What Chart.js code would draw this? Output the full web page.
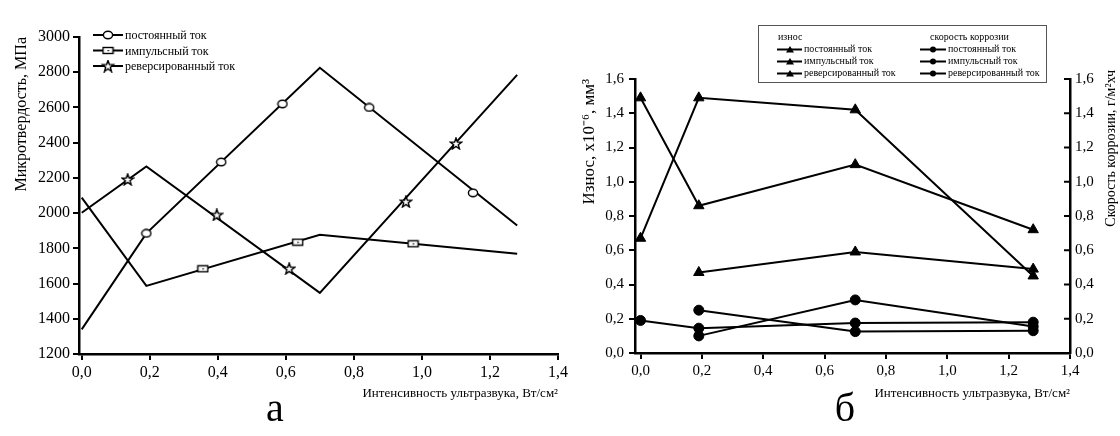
<!DOCTYPE html>
<html>
<head>
<meta charset="utf-8">
<script src="https://cdn.jsdelivr.net/npm/chart.js@4.4.0/dist/chart.umd.min.js"></script>
<style>
  body { margin: 0; background: #fff; width: 1120px; height: 436px; overflow: hidden; position: relative; }
  canvas { position: absolute; top: 0; }
  #chartA { left: 0; }
  #chartB { left: 555px; }
  .letter { position: absolute; top: 388px; font: 40px/1 "Liberation Serif", serif; color: #000; transform: translateX(-50%); }
</style>
</head>
<body>
<canvas id="chartA" width="580" height="420"></canvas>
<canvas id="chartB" width="565" height="420"></canvas>
<div class="letter" style="left:275px">а</div>
<div class="letter" style="left:845px">б</div>
<script>
// --- а: микротвердость ---
const xTicksA = [0, 0.2, 0.4, 0.6, 0.8, 1.0, 1.2, 1.4];
const yTicksA = [1200, 1400, 1600, 1800, 2000, 2200, 2400, 2600, 2800, 3000];
const seriesNames = ['постоянный ток', 'импульсный ток', 'реверсированный ток'];
const intensity = [0, 0.19, 0.7, 1.28];
const hvDC = [1340, 1885, 2825, 1930];
const hvPulse = [2088, 1587, 1877, 1769];
const hvRev = [2002, 2265, 1547, 2785];
// symbols along the lines
const symDCx = [0.19, 0.41, 0.59, 0.845, 1.15];
const symDCy = [1885, 2290, 2620, 2600, 2115];
const symPulseX = [0.356, 0.635, 0.974];
const symPulseY = [1684, 1835, 1826];
const symRevX = [0.135, 0.397, 0.61, 0.953, 1.10];
const symRevY = [2191, 1990, 1685, 2065, 2395];

// --- б: износ и скорость коррозии ---
const xTicksB = [0, 0.2, 0.4, 0.6, 0.8, 1.0, 1.2, 1.4];
const yTicksB = [0, 0.2, 0.4, 0.6, 0.8, 1.0, 1.2, 1.4, 1.6];
const wearDC = [1.49, 0.86, 1.10, 0.72];
const wearPulse = [0.67, 1.49, 1.42, 0.45];
const wearRev = [null, 0.47, 0.59, 0.49];
const corrDC = [0.19, 0.145, 0.175, 0.18];
const corrPulse = [null, 0.25, 0.125, 0.13];
const corrRev = [null, 0.10, 0.31, 0.155];

const FONT = '"Liberation Serif", "Times New Roman", serif';
Chart.defaults.font.family = FONT;
Chart.defaults.color = '#000';

const pts = (xs, ys) => xs.map((x, i) => ({ x: x, y: ys[i] }));
const comma = v => Number(v).toFixed(1).replace('.', ',');

// hollow symbols for chart а
function makeSymbol(w, h, draw) {
    const c = document.createElement('canvas');
    c.width = w; c.height = h;
    const g = c.getContext('2d');
    g.lineWidth = 1.4; g.strokeStyle = '#000'; g.fillStyle = '#fff';
    draw(g);
    return c;
}
const symCircle = makeSymbol(12, 10, g => {
    g.beginPath(); g.ellipse(6, 5, 4.6, 3.7, 0, 0, Math.PI * 2); g.fill(); g.stroke();
});
const symSquare = makeSymbol(13, 9, g => {
    g.fillRect(1.5, 1.5, 10, 6); g.strokeRect(1.5, 1.5, 10, 6);
    g.fillStyle = '#000'; g.fillRect(6, 4, 1.5, 1.2);
});
const symStar = makeSymbol(14, 13, g => {
    g.beginPath();
    for (let i = 0; i < 10; i++) {
        const r = i % 2 ? 2.4 : 6;
        const a = -Math.PI / 2 + i * Math.PI / 5;
        const px = 7 + r * Math.cos(a), py = 7 + r * Math.sin(a);
        i ? g.lineTo(px, py) : g.moveTo(px, py);
    }
    g.closePath(); g.fill(); g.stroke();
});
const symbolsA = [symCircle, symSquare, symStar];

function lineSet(data, yAxisID) {
    return { data: data, borderColor: '#000', borderWidth: 2, pointRadius: 0, fill: false, tension: 0, yAxisID: yAxisID };
}
function symbolSet(data, img) {
    return { data: data, showLine: false, pointStyle: img, pointRadius: 6, borderColor: '#000', backgroundColor: '#fff' };
}
function markSet(data, style, r, yAxisID) {
    return { data: data, borderColor: '#000', borderWidth: 2, pointStyle: style, pointRadius: r,
        pointBackgroundColor: '#000', pointBorderColor: '#000', pointBorderWidth: 1, tension: 0, yAxisID: yAxisID };
}

const tickGrid = { drawOnChartArea: false, drawTicks: true, tickLength: 6, color: '#000', lineWidth: 2 };
const axisBorder = { display: true, color: '#000', width: 2.5 };

const legendA = {
    id: 'legendA',
    afterDraw(chart) {
        const ctx = chart.ctx;
        ctx.save();
        ctx.font = '12px ' + FONT;
        ctx.fillStyle = '#000';
        ctx.strokeStyle = '#000';
        ctx.textBaseline = 'middle';
        seriesNames.forEach((name, i) => {
            const y = 35 + i * 15.5;
            ctx.lineWidth = 2;
            ctx.beginPath(); ctx.moveTo(93, y); ctx.lineTo(123, y); ctx.stroke();
            const s = symbolsA[i];
            ctx.drawImage(s, 108 - s.width / 2, y - s.height / 2);
            ctx.fillText(name, 125, y + 1);
        });
        ctx.restore();
    }
};

new Chart(document.getElementById('chartA'), {
    type: 'line',
    data: {
        datasets: [
            symbolSet(pts(symDCx, symDCy), symCircle),
            symbolSet(pts(symPulseX, symPulseY), symSquare),
            symbolSet(pts(symRevX, symRevY), symStar),
            lineSet(pts(intensity, hvDC)),
            lineSet(pts(intensity, hvPulse)),
            lineSet(pts(intensity, hvRev))
        ]
    },
    options: {
        responsive: false,
        animation: false,
        devicePixelRatio: 1,
        layout: { padding: { top: 37, right: 22, bottom: 13, left: 0 } },
        plugins: { legend: { display: false }, tooltip: { enabled: false } },
        scales: {
            x: {
                type: 'linear', min: -0.008, max: 1.4,
                afterBuildTicks: s => { s.ticks = xTicksA.map(v => ({ value: v })); },
                afterFit: s => { s.height = 53; },
                ticks: { callback: comma, font: { size: 16 }, color: '#000', padding: 3, maxRotation: 0, autoSkip: false },
                grid: tickGrid, border: axisBorder,
                title: { display: true, text: 'Интенсивность ультразвука, Вт/см²', align: 'end', color: '#000',
                    font: { size: 13 }, padding: { top: 4, bottom: 6 } }
            },
            y: {
                min: 1200, max: 3000,
                afterBuildTicks: s => { s.ticks = yTicksA.map(v => ({ value: v })); },
                afterFit: s => { s.width = 79; },
                ticks: { callback: v => String(v), font: { size: 16 }, color: '#000', padding: 3 },
                grid: tickGrid, border: axisBorder,
                title: { display: true, text: 'Микротвердость, МПа', align: 'end', color: '#000',
                    font: { size: 16 }, padding: { top: 12, bottom: 0 } }
            }
        }
    },
    plugins: [legendA]
});

const extrasB = {
    id: 'extrasB',
    afterDraw(chart) {
        const { ctx, chartArea, scales } = chart;
        ctx.save();
        ctx.strokeStyle = '#000';
        ctx.fillStyle = '#000';
        // inward ticks on the right axis
        ctx.lineWidth = 2;
        yTicksB.forEach(v => {
            const y = scales.y2.getPixelForValue(v);
            ctx.beginPath(); ctx.moveTo(chartArea.right - 6, y); ctx.lineTo(chartArea.right, y); ctx.stroke();
        });
        // right axis title, reads bottom to top
        ctx.save();
        ctx.font = '14px ' + FONT;
        ctx.translate(chartArea.right + 41, 70);
        ctx.rotate(-Math.PI / 2);
        ctx.textAlign = 'right';
        ctx.textBaseline = 'middle';
        ctx.fillText('Скорость коррозии, г/м²хч', 0, 0);
        ctx.restore();
        // legend box
        const bx = 203, by = 25, bw = 288, bh = 57;
        ctx.lineWidth = 1;
        ctx.strokeStyle = '#555';
        ctx.strokeRect(bx + 0.5, by + 0.5, bw, bh);
        ctx.strokeStyle = '#000';
        ctx.font = '10px ' + FONT;
        ctx.textBaseline = 'middle';
        ctx.fillText('износ', 223, 37);
        ctx.fillText('скорость коррозии', 375, 37);
        seriesNames.forEach((name, i) => {
            const y = 49.5 + i * 12;
            ctx.lineWidth = 2;
            ctx.beginPath(); ctx.moveTo(222, y); ctx.lineTo(247, y); ctx.stroke();
            ctx.beginPath(); ctx.moveTo(235, y - 3.5); ctx.lineTo(239, y + 3); ctx.lineTo(231, y + 3); ctx.closePath(); ctx.fill();
            ctx.fillText(name, 249, y);
            ctx.beginPath(); ctx.moveTo(365, y); ctx.lineTo(391, y); ctx.stroke();
            ctx.beginPath(); ctx.arc(378, y, 3, 0, Math.PI * 2); ctx.fill();
            ctx.fillText(name, 393, y);
        });
        ctx.restore();
    }
};

new Chart(document.getElementById('chartB'), {
    type: 'line',
    data: {
        datasets: [
            markSet(pts(intensity, wearDC), 'triangle', 6, 'y'),
            markSet(pts(intensity, wearPulse), 'triangle', 6, 'y'),
            markSet(pts(intensity, wearRev), 'triangle', 6, 'y'),
            markSet(pts(intensity, corrDC), 'circle', 5, 'y2'),
            markSet(pts(intensity, corrPulse), 'circle', 5, 'y2'),
            markSet(pts(intensity, corrRev), 'circle', 5, 'y2')
        ]
    },
    options: {
        responsive: false,
        animation: false,
        devicePixelRatio: 1,
        layout: { padding: { top: 79, right: 0, bottom: 14, left: 0 } },
        plugins: { legend: { display: false }, tooltip: { enabled: false } },
        scales: {
            x: {
                type: 'linear', min: -0.018, max: 1.4,
                afterBuildTicks: s => { s.ticks = xTicksB.map(v => ({ value: v })); },
                afterFit: s => { s.height = 53; },
                ticks: { callback: comma, font: { size: 15 }, color: '#000', padding: 3, maxRotation: 0, autoSkip: false },
                grid: tickGrid, border: axisBorder,
                title: { display: true, text: 'Интенсивность ультразвука, Вт/см²', align: 'end', color: '#000',
                    font: { size: 13 }, padding: { top: 4, bottom: 5 } }
            },
            y: {
                position: 'left', min: 0, max: 1.6,
                afterBuildTicks: s => { s.ticks = yTicksB.map(v => ({ value: v })); },
                afterFit: s => { s.width = 80; },
                ticks: { callback: comma, font: { size: 15 }, color: '#000', padding: 5 },
                grid: tickGrid, border: axisBorder,
                title: { display: true, text: 'Износ, х10⁻⁶, мм³', align: 'end', color: '#000',
                    font: { size: 17 }, padding: { top: 24, bottom: 0 } }
            },
            y2: {
                position: 'right', min: 0, max: 1.6,
                afterBuildTicks: s => { s.ticks = yTicksB.map(v => ({ value: v })); },
                afterFit: s => { s.width = 50; },
                ticks: { callback: comma, font: { size: 15 }, color: '#000', padding: 5 },
                grid: { drawOnChartArea: false, drawTicks: false, color: '#000' },
                border: axisBorder
            }
        }
    },
    plugins: [extrasB]
});
</script>
</body>
</html>
